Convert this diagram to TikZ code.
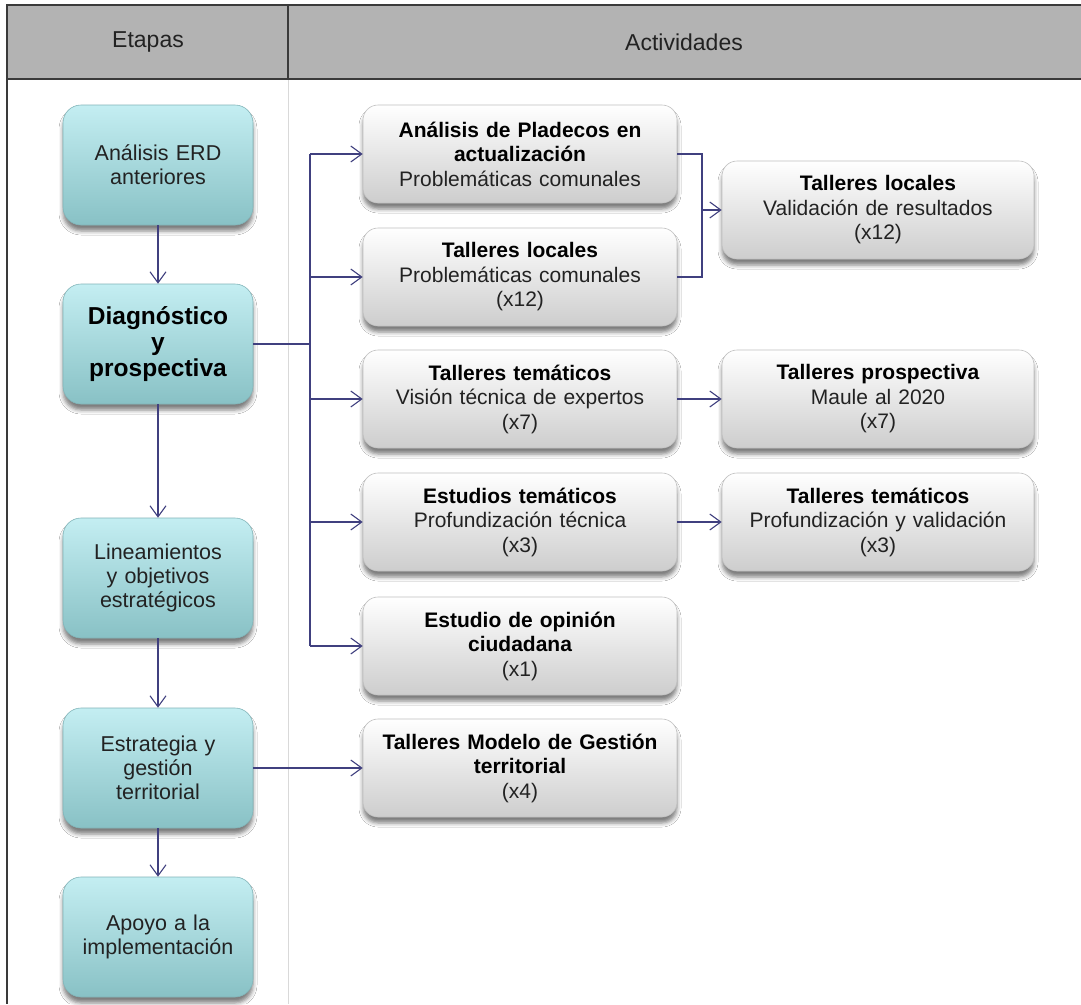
\documentclass[tikz,border=0pt]{standalone}
\usepackage{fontspec}
\setmainfont{Liberation Sans}
\usetikzlibrary{arrows.meta,shadows.blur}

\definecolor{hdrgray}{HTML}{B3B3B3}
\definecolor{rulecol}{HTML}{3A3A3A}
\definecolor{faint}{HTML}{D9D9D9}
\definecolor{tealtop}{HTML}{C4EEF2}
\definecolor{tealbot}{HTML}{88C1C5}
\definecolor{tealedge}{HTML}{82B5B9}
\definecolor{greybot}{HTML}{CDCDCD}
\definecolor{greyedge}{HTML}{C0C0C0}
\definecolor{wireblue}{HTML}{40407F}
\definecolor{ink}{HTML}{222222}

\newcommand\hd[1]{{\bfseries\color{black}#1}}

\begin{document}
\begin{tikzpicture}[x=1pt,y=-1pt,
  stagebox/.style={rounded corners=18pt, minimum width=190pt, minimum height=120pt,
    inner sep=0pt, text width=184pt, align=center, text=ink,
    top color=tealtop, bottom color=tealbot, draw=tealedge, line width=0.6pt,
    font=\fontsize{21.5}{24}\selectfont,
    blur shadow={shadow xshift=0pt, shadow yshift=-6pt, shadow blur radius=4pt, shadow opacity=50}},
  actbox/.style={rounded corners=15pt, minimum width=314pt, minimum height=98pt,
    inner sep=0pt, text width=306pt, align=center, text=ink,
    top color=white, bottom color=greybot, draw=greyedge, line width=0.6pt,
    font=\fontsize{21}{24.5}\selectfont,
    blur shadow={shadow xshift=0pt, shadow yshift=-6pt, shadow blur radius=4pt, shadow opacity=50}},
  wire/.style={draw=wireblue, line width=1.3pt},
  link/.style={wire, -{Straight Barb[length=11pt, width=16pt, line width=1.1pt]}}
]
\useasboundingbox (0,0) rectangle (1081,1004);
\fill[white] (0,0) rectangle (1081,1004);

% table frame and header
\fill[hdrgray] (7,5) rectangle (1081,79);
\draw[faint, line width=1pt] (288,79) -- (288,1004);
\draw[rulecol, line width=2pt] (6,5) -- (1081,5);
\draw[rulecol, line width=2pt] (6,79) -- (1081,79);
\draw[rulecol, line width=1.5pt] (7,4) -- (7,1004);
\draw[rulecol, line width=1.5pt] (288,5) -- (288,79);
\node[font=\fontsize{23}{26}\selectfont, text=ink] (h1) at (148,42) {Etapas};
\node[font=\fontsize{23}{26}\selectfont, text=ink] (h2) at (684,42) {Actividades};

% stages
\node[stagebox] (b1) at (158,165) {Análisis ERD\\anteriores};
\node[stagebox, font=\fontsize{24.5}{26}\selectfont\bfseries, text=black] (b2) at (158,344) {Diagnóstico\\y\\prospectiva};
\node[stagebox] (b3) at (158,578) {Lineamientos\\y objetivos\\estratégicos};
\node[stagebox] (b4) at (158,768) {Estrategia y\\gestión\\territorial};
\node[stagebox] (b5) at (158,937) {Apoyo a la\\implementación};

% activities
\node[actbox] (a1) at (520,154) {\hd{Análisis de Pladecos en}\\\hd{actualización}\\Problemáticas comunales};
\node[actbox] (a2) at (520,277) {\hd{Talleres locales}\\Problemáticas comunales\\(x12)};
\node[actbox] (a3) at (520,399) {\hd{Talleres temáticos}\\Visión técnica de expertos\\(x7)};
\node[actbox] (a4) at (520,522) {\hd{Estudios temáticos}\\Profundización técnica\\(x3)};
\node[actbox] (a5) at (520,646) {\hd{Estudio de opinión}\\\hd{ciudadana}\\(x1)};
\node[actbox] (a6) at (520,768) {\hd{Talleres Modelo de Gestión}\\\hd{territorial}\\(x4)};

\node[actbox, minimum width=312pt] (c1) at (878,210) {\hd{Talleres locales}\\Validación de resultados\\(x12)};
\node[actbox, minimum width=312pt] (c3) at (878,399) {\hd{Talleres prospectiva}\\Maule al 2020\\(x7)};
\node[actbox, minimum width=312pt] (c4) at (878,522) {\hd{Talleres temáticos}\\Profundización y validación\\(x3)};

% stage sequence
\draw[link] (b1.south) -- (b2.north);
\draw[link] (b2.south) -- (b3.north);
\draw[link] (b3.south) -- (b4.north);
\draw[link] (b4.south) -- (b5.north);

% branching from the diagnosis stage
\coordinate (trunkTop) at (310,154);
\coordinate (trunkBot) at (310,646);
\draw[wire] (trunkTop) -- (trunkBot);
\draw[wire] (b2.east) -- (b2.east -| trunkTop);
\foreach \n in {a1,a2,a3,a4,a5}
  \draw[link] (trunkTop |- \n.west) -- (\n.west);

% joining the two local inputs
\coordinate (brk) at (702,0);
\draw[wire] (a1.east) -- (a1.east -| brk) -- (a2.east -| brk) -- (a2.east);
\draw[link] (brk |- c1.west) -- (c1.west);

\draw[link] (a3.east) -- (c3.west);
\draw[link] (a4.east) -- (c4.west);
\draw[link] (b4.east) -- (a6.west);
\end{tikzpicture}
\end{document}
